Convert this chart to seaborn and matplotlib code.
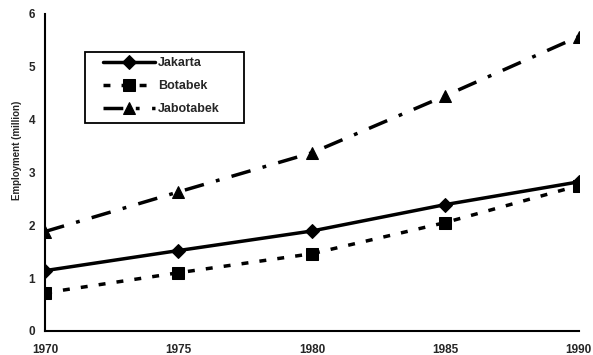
import seaborn as sns
import matplotlib.pyplot as plt
import matplotlib.patches as mpatches
import pandas as pd

years = [1970, 1975, 1980, 1985, 1990]
jakarta = [1.14, 1.52, 1.89, 2.39, 2.82]
botabek = [0.72, 1.10, 1.46, 2.05, 2.75]
jabotabek = [1.88, 2.63, 3.37, 4.45, 5.57]

sns.set_style("white")
plt.rcParams['font.family'] = ['Liberation Sans', 'DejaVu Sans']
plt.rcParams['font.weight'] = 'bold'

fig = plt.figure(figsize=(5.93, 3.55), dpi=100)
ax = fig.add_axes([0.076, 0.068, 0.9, 0.893])

series = [
    ("Jakarta", jakarta, "-", "D", 7),
    ("Botabek", botabek, (0, (2, 3.2)), "s", 9),
    ("Jabotabek", jabotabek, (0, (5.7, 3.6, 1.1, 3.6)), "^", 9),
]
for name, vals, ls, mk, ms in series:
    df = pd.DataFrame({"year": years, "value": vals})
    sns.lineplot(data=df, x="year", y="value", ax=ax, color="black",
                 linestyle=ls, linewidth=2.5, marker=mk, markersize=ms,
                 markeredgecolor="black", label=name)

ax.set_xlim(1970, 1990)
ax.set_ylim(0, 6)
ax.set_xticks(years)
ax.set_yticks(range(7))
ax.tick_params(axis="both", labelsize=8.5, length=4, direction="inout", width=1.2)
ax.tick_params(axis="x", pad=8, length=3)
ax.tick_params(axis="y", pad=5)
ax.set_xlabel("")
ax.set_ylabel("Employment (million)", fontsize=7, fontweight="bold")
ax.yaxis.set_label_coords(-0.044, 0.568)
for s in ["top", "right"]:
    ax.spines[s].set_visible(False)
for s in ["left", "bottom"]:
    ax.spines[s].set_color("black")
    ax.spines[s].set_linewidth(1.5)

# legend without frame, then a wider box drawn around it
leg = ax.legend(loc="upper left", bbox_to_anchor=(0.099, 0.879), borderaxespad=0,
                frameon=False, fontsize=9, handlelength=4.2, handletextpad=0.2,
                borderpad=0.4, labelspacing=0.88)
fig.canvas.draw()
bb = leg.get_window_extent()
inv = fig.transFigure.inverted()
(x0, y0), (x1, y1) = inv.transform([(bb.x0 - 13, bb.y0 - 3), (bb.x1 + 19, bb.y1)])
box = mpatches.Rectangle((x0, y0), x1 - x0, y1 - y0, transform=fig.transFigure,
                         fill=False, edgecolor="black", linewidth=1.3)
fig.add_artist(box)

fig.savefig("out.png", dpi=100)
